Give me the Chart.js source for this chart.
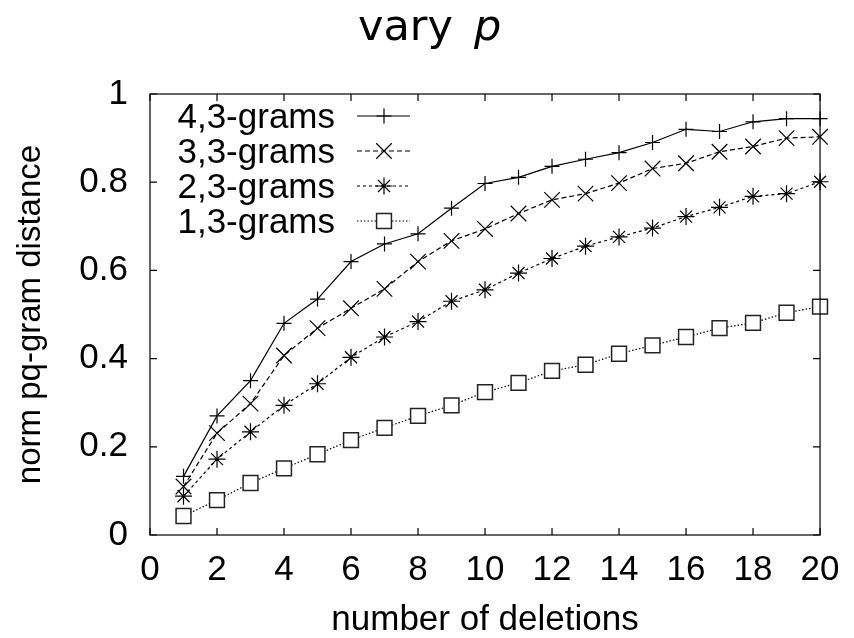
<!DOCTYPE html>
<html><head><meta charset="utf-8">
<script src="https://cdn.jsdelivr.net/npm/chart.js@4/dist/chart.umd.min.js"></script>
<style>html,body{margin:0;padding:0;background:#fff}#wrap{width:854px;height:638px}</style>
</head><body><div id="wrap"><canvas id="c" width="854" height="638"></canvas></div>
<script>
// ---- data ----
const deletions = [1,2,3,4,5,6,7,8,9,10,11,12,13,14,15,16,17,18,19,20];
const xTickValues = [0,2,4,6,8,10,12,14,16,18,20];
const xTickLabels = ['0','2','4','6','8','10','12','14','16','18','20'];
const yTickValues = [0,0.2,0.4,0.6,0.8,1];
const yTickLabels = ['0','0.2','0.4','0.6','0.8','1'];
const seriesNames = ['4,3-grams','3,3-grams','2,3-grams','1,3-grams'];
const grams43 = [0.133,0.27,0.35,0.48,0.535,0.62,0.66,0.683,0.741,0.797,0.811,0.836,0.852,0.867,0.89,0.92,0.915,0.937,0.944,0.944];
const grams33 = [0.11,0.231,0.298,0.407,0.469,0.514,0.558,0.62,0.667,0.694,0.729,0.76,0.774,0.798,0.831,0.843,0.869,0.881,0.9,0.903];
const grams23 = [0.088,0.172,0.234,0.294,0.343,0.403,0.449,0.484,0.53,0.556,0.594,0.627,0.655,0.676,0.696,0.722,0.743,0.768,0.774,0.801];
const grams13 = [0.043,0.079,0.118,0.151,0.183,0.215,0.243,0.27,0.294,0.324,0.345,0.372,0.386,0.411,0.43,0.449,0.469,0.481,0.504,0.518];
const titleMain = 'vary';
const titleVar = 'p';
const xTitle = 'number of deletions';
const yTitle = 'norm pq-gram distance';

const FONT = '"Liberation Sans", Arial, sans-serif';
const pts = arr => deletions.map((d,i)=>({x:d,y:arr[i]}));

const styles = [
  {pointStyle:'cross', pointRadius:7.5, borderDash:[], pointBackgroundColor:'#000'},
  {pointStyle:'crossRot', pointRadius:11, borderDash:[5,3], pointBackgroundColor:'#000'},
  {pointStyle:'star', pointRadius:8.5, borderDash:[3,3], pointBackgroundColor:'#000'},
  {pointStyle:'rect', pointRadius:10.5, borderDash:[1.5,2], pointBackgroundColor:'#fff'}
];
const seriesData = [grams43, grams33, grams23, grams13];

const datasets = seriesData.map((arr,i)=>({
  label: seriesNames[i],
  data: pts(arr),
  borderColor:'#000',
  borderWidth:1.2,
  borderDash: styles[i].borderDash,
  pointStyle: styles[i].pointStyle,
  pointRadius: styles[i].pointRadius,
  pointHoverRadius: styles[i].pointRadius,
  pointBorderColor: i===3 ? '#222' : '#000',
  pointBorderWidth: i===3 ? 1.5 : 1.2,
  pointBackgroundColor: styles[i].pointBackgroundColor,
  fill:false,
  tension:0,
  clip:false
}));

const framePlugin = {
  id:'frame',
  afterDraw(chart){
    const {ctx, chartArea:a, scales} = chart;
    ctx.save();
    ctx.strokeStyle='#000';
    ctx.lineWidth=1.2;
    ctx.setLineDash([]);
    ctx.strokeRect(a.left, a.top, a.right-a.left, a.bottom-a.top);
    const tl = 7;
    ctx.beginPath();
    xTickValues.forEach(v=>{
      const x = scales.x.getPixelForValue(v);
      ctx.moveTo(x, a.bottom); ctx.lineTo(x, a.bottom-tl);
      ctx.moveTo(x, a.top); ctx.lineTo(x, a.top+tl);
    });
    yTickValues.forEach(v=>{
      const y = scales.y.getPixelForValue(v);
      ctx.moveTo(a.left, y); ctx.lineTo(a.left+tl, y);
      ctx.moveTo(a.right, y); ctx.lineTo(a.right-tl, y);
    });
    ctx.stroke();

    // title
    ctx.fillStyle='#000';
    ctx.textBaseline='alphabetic';
    ctx.textAlign='left';
    ctx.font = '43px "DejaVu Sans", sans-serif';
    ctx.fillText(titleMain, 358, 40);
    ctx.font = 'italic 43px "DejaVu Sans", sans-serif';
    ctx.fillText(titleVar, 474, 40);

    // legend
    chart.data.datasets.forEach((ds,i)=>{
      const y = 116 + i*35;
      ctx.font = '35px ' + FONT;
      ctx.textAlign='right';
      ctx.textBaseline='alphabetic';
      ctx.fillStyle='#000';
      ctx.fillText(ds.label, 335, y+12);
      ctx.beginPath();
      ctx.setLineDash(ds.borderDash);
      ctx.lineWidth = ds.borderWidth;
      ctx.strokeStyle = ds.borderColor;
      ctx.moveTo(357, y); ctx.lineTo(410, y);
      ctx.stroke();
      ctx.setLineDash([]);
      ctx.fillStyle = ds.pointBackgroundColor;
      ctx.strokeStyle = ds.pointBorderColor;
      ctx.lineWidth = ds.pointBorderWidth;
      Chart.helpers.drawPoint(ctx, {pointStyle: ds.pointStyle, radius: ds.pointRadius, rotation:0, borderWidth: ds.pointBorderWidth}, 384, y);
    });
    ctx.restore();
  }
};

new Chart(document.getElementById('c'), {
  type:'line',
  data:{datasets},
  options:{
    responsive:false,
    animation:false,
    devicePixelRatio:1,
    layout:{padding:{top:94,right:28,bottom:0,left:0}},
    plugins:{legend:{display:false}, tooltip:{enabled:false}, title:{display:false}},
    scales:{
      x:{
        type:'linear', min:0, max:20,
        afterFit(s){ s.height = 103; },
        afterBuildTicks(s){ s.ticks = xTickValues.map(v=>({value:v})); },
        grid:{display:false, drawTicks:false},
        border:{display:false},
        ticks:{padding:14.5, color:'#000', font:{family:FONT, size:35}, maxRotation:0, autoSkip:false,
          callback:(v)=>xTickLabels[xTickValues.indexOf(v)]},
        title:{display:true, text:xTitle, color:'#000', font:{family:FONT, size:35, lineHeight:1}, padding:{top:0,bottom:0}}
      },
      y:{
        type:'linear', min:0, max:1,
        afterFit(s){ s.width = 150; },
        afterBuildTicks(s){ s.ticks = yTickValues.map(v=>({value:v})); },
        grid:{display:false, drawTicks:false},
        border:{display:false},
        ticks:{padding:22, color:'#000', font:{family:FONT, size:35}, autoSkip:false,
          callback:(v)=>yTickLabels[yTickValues.findIndex(t=>Math.abs(t-v)<1e-9)]},
        title:{display:true, text:yTitle, color:'#000', font:{family:FONT, size:33, lineHeight:1}, padding:{top:14,bottom:0}}
      }
    }
  },
  plugins:[framePlugin]
});
</script>
</body></html>
